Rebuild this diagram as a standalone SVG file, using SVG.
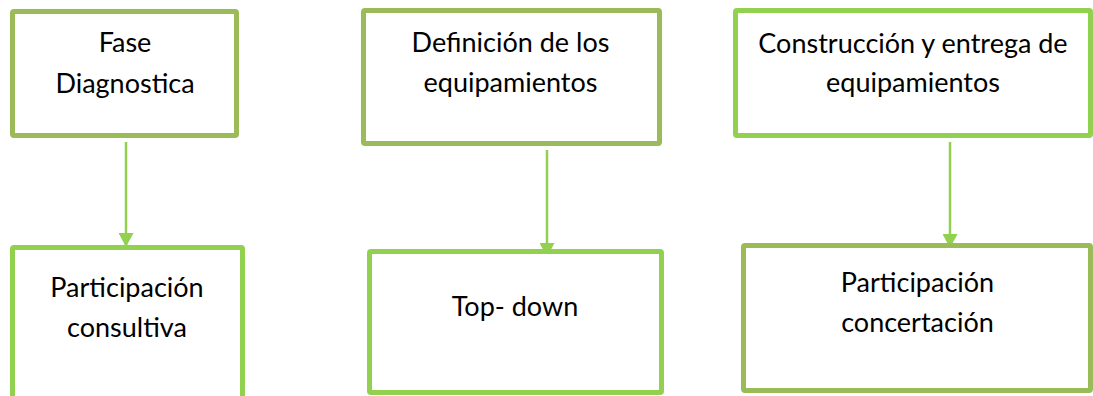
<svg xmlns="http://www.w3.org/2000/svg" width="1093" height="396" viewBox="0 0 1093 396">
  <style>
    .box { fill: #ffffff; stroke-width: 5; }
    .olive { stroke: #9BBB59; }
    .lime { stroke: #92D050; }
    .t { font-family: "Lato", "Open Sans", "Liberation Sans", sans-serif; font-size: 27px; fill: #000000; text-anchor: middle; }
    .conn { stroke: #92D050; stroke-width: 2.5; fill: none; }
  </style>
  <defs>
    <marker id="arrow" markerUnits="userSpaceOnUse" markerWidth="16" markerHeight="15" refX="14" refY="7.5" orient="auto">
      <path d="M0,0 L14,7.5 L0,15 Z" fill="#92D050"/>
    </marker>
  </defs>
  <rect width="1093" height="396" fill="#ffffff"/>
  <g id="connectors">
    <line class="conn" x1="126" y1="142" x2="126" y2="247" marker-end="url(#arrow)"/>
    <line class="conn" x1="547" y1="150" x2="547" y2="257" marker-end="url(#arrow)"/>
    <line class="conn" x1="950" y1="142" x2="950" y2="248" marker-end="url(#arrow)"/>
  </g>
  <g id="fase-diagnostica">
    <rect class="box olive" x="12.5" y="11.5" width="224" height="124" rx="1.5"/>
    <text class="t" x="125" y="52">Fase</text>
    <text class="t" x="125" y="93">Diagnostica</text>
  </g>
  <g id="definicion-equipamientos">
    <rect class="box olive" x="363.5" y="10.5" width="296" height="133" rx="1.5"/>
    <text class="t" x="510.5" y="52">Definición de los</text>
    <text class="t" x="510.5" y="92">equipamientos</text>
  </g>
  <g id="construccion-entrega">
    <rect class="box lime" x="735.5" y="10.5" width="355" height="125" rx="1.5"/>
    <text class="t" x="913" y="53">Construcción y entrega de</text>
    <text class="t" x="913" y="92">equipamientos</text>
  </g>
  <g id="participacion-consultiva">
    <rect class="box lime" x="12.5" y="247.5" width="230" height="152" rx="1.5"/>
    <text class="t" x="127" y="297">Participación</text>
    <text class="t" x="127" y="337">consultiva</text>
  </g>
  <g id="top-down">
    <rect class="box lime" x="369.5" y="251.5" width="292" height="141" rx="1.5"/>
    <text class="t" x="515" y="316">Top- down</text>
  </g>
  <g id="participacion-concertacion">
    <rect class="box olive" x="743.5" y="245.5" width="347" height="145" rx="1.5"/>
    <text class="t" x="917.5" y="292">Participación</text>
    <text class="t" x="917.5" y="332">concertación</text>
  </g>
</svg>
